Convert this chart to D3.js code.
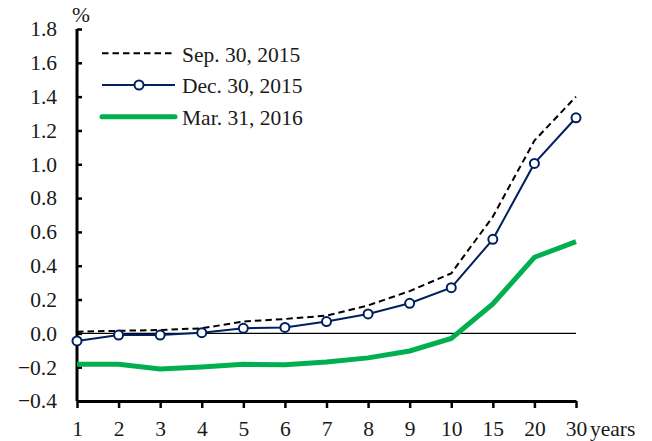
<!DOCTYPE html>
<html>
<head>
<meta charset="utf-8">
<script src="https://cdn.jsdelivr.net/npm/d3@7"></script>
<style>
  body { margin: 0; background: #fff; }
  svg text { font-family: "Liberation Serif", "Times New Roman", serif; fill: #1a1a1a; }
</style>
</head>
<body>
<div id="chart"></div>
<script>
// maturities (years) - equally spaced categories
var maturities = ["1", "2", "3", "4", "5", "6", "7", "8", "9", "10", "15", "20", "30"];
var sep2015 = [0.01, 0.015, 0.02, 0.03, 0.07, 0.085, 0.105, 0.165, 0.25, 0.355, 0.69, 1.14, 1.40];
var dec2015 = [-0.045, -0.01, -0.01, 0.004, 0.03, 0.035, 0.07, 0.115, 0.178, 0.27, 0.556, 1.005, 1.275];
var mar2016 = [-0.183, -0.183, -0.21, -0.199, -0.183, -0.186, -0.169, -0.145, -0.104, -0.03, 0.174, 0.45, 0.543];
var seriesNames = ["Sep. 30, 2015", "Dec. 30, 2015", "Mar. 31, 2016"];
var yTicks = [-0.4, -0.2, 0.0, 0.2, 0.4, 0.6, 0.8, 1.0, 1.2, 1.4, 1.6, 1.8];

var width = 652, height = 441;
var margin = { left: 77, right: 76, top: 29, bottom: 40 };
var fs = 21.5;

var svg = d3.select("#chart").append("svg")
	.attr("width", width)
	.attr("height", height);

var x = d3.scalePoint()
	.domain(maturities)
	.range([margin.left, width - margin.right]);

var y = d3.scaleLinear()
	.domain([-0.4, 1.8])
	.range([height - margin.bottom, margin.top]);

// zero line
svg.append("line")
	.attr("x1", x("1")).attr("x2", x("30"))
	.attr("y1", y(0)).attr("y2", y(0))
	.attr("stroke", "#000").attr("stroke-width", 1.2);

// y axis (ticks point inward)
var yAxis = svg.append("g")
	.attr("transform", "translate(" + margin.left + ",0)")
	.call(d3.axisRight(y).tickValues(yTicks).tickSize(5).tickFormat(d3.format(".1f")));
yAxis.select(".domain").attr("stroke", "#000").attr("stroke-width", 3)
	.attr("d", "M0," + y(-0.4) + "V" + y(1.8));
yAxis.selectAll(".tick line").attr("stroke", "#000").attr("stroke-width", 2.5);
yAxis.selectAll(".tick text")
	.attr("x", -20)
	.attr("text-anchor", "end")
	.attr("font-size", fs);

// x axis
var xAxis = svg.append("g")
	.attr("transform", "translate(0," + y(-0.4) + ")")
	.call(d3.axisBottom(x).tickSize(7).tickSizeOuter(0));
xAxis.select(".domain").attr("stroke", "#000").attr("stroke-width", 3);
xAxis.selectAll(".tick line").attr("stroke", "#000").attr("stroke-width", 2.5);
xAxis.selectAll(".tick text")
	.attr("y", 35)
	.attr("dy", 0)
	.attr("font-size", fs);

svg.append("text")
	.attr("x", x("30") + 14)
	.attr("y", y(-0.4) + 35)
	.attr("font-size", fs)
	.text("years");

svg.append("text")
	.attr("x", 81)
	.attr("y", 22)
	.attr("text-anchor", "middle")
	.attr("font-size", fs)
	.text("%");

var line = d3.line()
	.x(function(d, i) { return x(maturities[i]); })
	.y(function(d) { return y(d); });

// green line
svg.append("path")
	.datum(mar2016)
	.attr("d", line)
	.attr("fill", "none")
	.attr("stroke", "#00B050")
	.attr("stroke-width", 5);

// dashed line
svg.append("path")
	.datum(sep2015)
	.attr("d", line)
	.attr("fill", "none")
	.attr("stroke", "#000")
	.attr("stroke-width", 2)
	.attr("stroke-dasharray", "6.5,4");

// navy line with markers
svg.append("path")
	.datum(dec2015)
	.attr("d", line)
	.attr("fill", "none")
	.attr("stroke", "#002060")
	.attr("stroke-width", 2);

svg.selectAll(".dot")
	.data(dec2015)
	.enter().append("circle")
	.attr("class", "dot")
	.attr("cx", function(d, i) { return x(maturities[i]); })
	.attr("cy", function(d) { return y(d); })
	.attr("r", 4.5)
	.attr("fill", "#fff")
	.attr("stroke", "#002060")
	.attr("stroke-width", 2);

// legend
var legend = svg.append("g").attr("transform", "translate(102,53.3)");
var rowGap = 31.7;
legend.append("line")
	.attr("x1", 0).attr("x2", 73).attr("y1", 0).attr("y2", 0)
	.attr("stroke", "#000").attr("stroke-width", 2).attr("stroke-dasharray", "6.5,4");
legend.append("line")
	.attr("x1", 0).attr("x2", 73).attr("y1", rowGap).attr("y2", rowGap)
	.attr("stroke", "#002060").attr("stroke-width", 2);
legend.append("circle")
	.attr("cx", 37).attr("cy", rowGap).attr("r", 4.5)
	.attr("fill", "#fff").attr("stroke", "#002060").attr("stroke-width", 2);
legend.append("line")
	.attr("x1", 0).attr("x2", 73).attr("y1", rowGap * 2).attr("y2", rowGap * 2)
	.attr("stroke", "#00B050").attr("stroke-width", 5).attr("stroke-linecap", "round");
legend.selectAll(".ltxt")
	.data(seriesNames)
	.enter().append("text")
	.attr("class", "ltxt")
	.attr("x", 80)
	.attr("y", function(d, i) { return i * rowGap + 8.5; })
	.attr("font-size", fs)
	.text(function(d) { return d; });
</script>
</body>
</html>
